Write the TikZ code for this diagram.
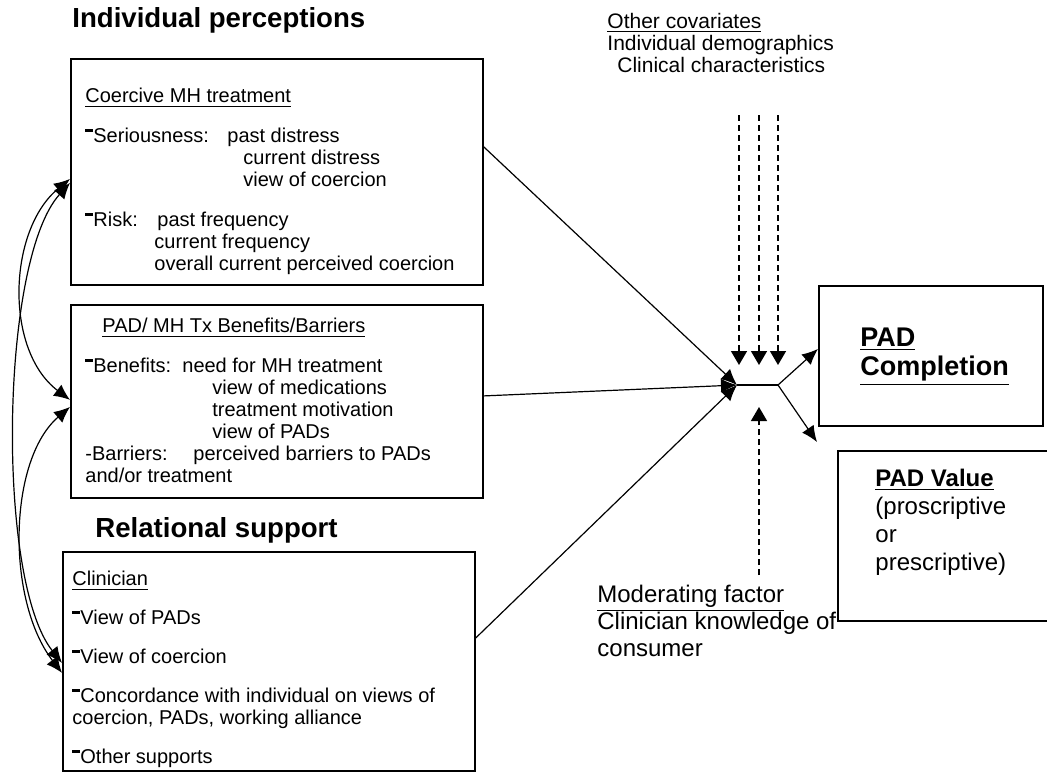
\documentclass[tikz,border=0pt]{standalone}
\usepackage{fontspec}
\setmainfont{Liberation Sans}
\usetikzlibrary{arrows.meta}
\newcommand{\itemdash}{\rule[0.55em]{0.4em}{0.13em}}

\begin{document}
\begin{tikzpicture}[x=0.5pt, y=-0.5pt,
    box/.style={draw, line width=0.9pt, anchor=north west, inner sep=0pt},
    txt/.style={anchor=north west, align=left, inner sep=0pt, font=\fontsize{10}{11}\selectfont},
    head/.style={anchor=west, inner sep=0pt, font=\fontsize{13.8}{16}\selectfont\bfseries},
    arr/.style={line width=0.6pt, -{Latex[length=8pt,width=7pt]}},
    corr/.style={line width=0.6pt, {Latex[length=8pt,width=7pt]}-{Latex[length=8pt,width=7pt]}},
    dashln/.style={line width=0.7pt, dash pattern=on 3pt off 2pt, -{Triangle[length=7pt,width=8pt]}}]
    \useasboundingbox (0,0) rectangle (1047,773);

    % Individual perceptions
    \node[head] (ttl1) at (72,20) {Individual perceptions};
    \node[box, minimum width=206pt, minimum height=113pt] (coer) at (70,58) {};
    \node[txt] (coertxt) at (85,88) {\underline{Coercive MH treatment}\\[9pt]
        \makebox[71pt][l]{\itemdash Seriousness:}past distress\\
        \hspace*{79pt}current distress\\
        \hspace*{79pt}view of coercion\\[9pt]
        \makebox[36pt][l]{\itemdash Risk:}past frequency\\
        \hspace*{34.5pt}current frequency\\
        \hspace*{34.5pt}overall current perceived coercion};

    \node[box, minimum width=206pt, minimum height=96.5pt] (pad) at (70,304) {};
    \node[txt] (padtxt) at (85,318) {\hspace*{8.5pt}\underline{PAD/ MH Tx Benefits/Barriers}\\[9pt]
        \makebox[48.5pt][l]{\itemdash Benefits:}need for MH treatment\\
        \hspace*{63.5pt}view of medications\\
        \hspace*{63.5pt}treatment motivation\\
        \hspace*{63.5pt}view of PADs\\
        \makebox[54pt][l]{-Barriers:}perceived barriers to PADs\\
        and/or treatment};

    % Relational support
    \node[head] (ttl2) at (95,530) {Relational support};
    \node[box, minimum width=206pt, minimum height=109.5pt] (clin) at (62,551) {};
    \node[txt] (clintxt) at (72,571) {\underline{Clinician}\\[8.5pt]
        \itemdash View of PADs\\[8.5pt]
        \itemdash View of coercion\\[8.5pt]
        \itemdash Concordance with individual on views of\\
        coercion, PADs, working alliance\\[8.5pt]
        \itemdash\underline{Other supports}};

    % covariates and moderator
    \node[txt, font=\fontsize{10.5}{11}\selectfont] (cov) at (607,13) {\underline{Other covariates}\\
        Individual demographics\\
        \hspace*{5pt}Clinical characteristics};
    \node[txt, font=\fontsize{12}{13.5}\selectfont] (mod) at (597,585) {\underline{Moderating factor}\\
        Clinician knowledge of\\
        consumer};

    % outcomes
    \node[box, minimum width=112pt, minimum height=70pt] (done) at (818,285) {};
    \node[txt, font=\fontsize{13.5}{14.5}\selectfont\bfseries] (donetxt) at (860,328) {\underline{PAD}\\\underline{Completion}};
    \node[box, minimum width=107pt, minimum height=85pt] (val) at (837,450) {};
    \node[txt, font=\fontsize{12}{14}\selectfont] (valtxt) at (875,469) {\textbf{\underline{PAD Value}}\\
        (proscriptive\\
        or\\
        prescriptive)};

    % paths into the outcome
    \coordinate (cv) at (737,385);
    \coordinate (jn) at (778,385);
    \coordinate (valtip) at (817,442);
    \draw[arr] ([yshift=12.5pt]coer.east) -- (cv);
    \draw[arr] ([yshift=2.75pt]pad.east) -- (cv);
    \draw[arr] ([yshift=11.75pt]clin.east) -- (cv);
    \draw[line width=0.6pt] (cv) -- (jn);
    \draw[arr] (jn) -- ([yshift=3.5pt]done.west);
    \draw[arr] (jn) -- (valtip);

    % dashed influences
    \foreach \x [count=\i] in {739,759,778} {
        \coordinate (cs\i) at (\x,115);
        \coordinate (ce\i) at (\x,365);
        \draw[dashln] (cs\i) -- (ce\i);
    }
    \coordinate (ms) at (759,575);
    \coordinate (me) at (759,407);
    \draw[dashln] (ms) -- (me);

    % correlations between predictors
    \draw[corr] ([yshift=-3.5pt]coer.west) .. controls (8,230) and (4,350) .. ([yshift=0.75pt]pad.west);
    \draw[corr] ([yshift=-5.5pt]coer.west) .. controls (0,260) and (-4,580) .. ([yshift=-0.75pt]clin.west);
    \draw[corr] ([yshift=-2.75pt]pad.west) .. controls (8,460) and (6,600) .. ([yshift=-5.75pt]clin.west);
\end{tikzpicture}
\end{document}
